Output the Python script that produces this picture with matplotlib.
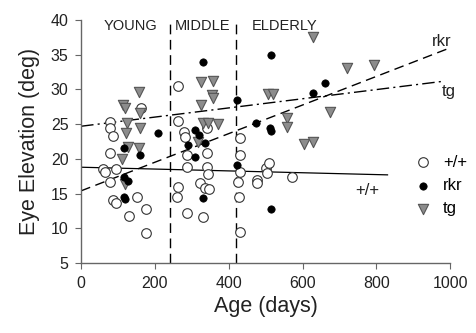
import matplotlib
matplotlib.use("Agg")
import matplotlib.pyplot as plt
import numpy as np

### === Data ===
# +/+ (open circles)
wt_age = [79, 79, 87, 163, 79, 60, 65, 95, 79, 87, 95, 152, 130, 176, 176,
          263, 263, 279, 282, 341, 287, 341, 287, 341, 344, 322, 336, 347, 263, 260, 287, 330,
          431, 431, 431, 425, 428, 431, 477, 477, 501, 509, 504, 572]
wt_elev = [25.3, 24.4, 23.3, 27.3, 20.8, 18.5, 18.1, 18.5, 16.7, 14.1, 13.7, 14.5, 11.8, 12.8, 9.3,
           30.5, 25.4, 23.9, 23.1, 24.4, 20.5, 20.8, 18.8, 18.8, 17.8, 16.5, 15.8, 15.6, 15.9, 14.5, 12.2, 11.6,
           23.0, 20.5, 18.1, 16.7, 14.5, 9.5, 17.0, 16.5, 18.7, 19.4, 18.0, 17.4]

# rkr (filled circles)
rkr_age = [209, 117, 160, 117, 127, 117, 120,
           330, 309, 320, 290, 336, 309, 330,
           423, 423,
           515, 474, 512, 515, 515, 629, 661]
rkr_elev = [23.7, 21.6, 20.5, 17.4, 16.8, 14.5, 14.2,
            34.0, 24.1, 23.4, 22.0, 22.3, 20.3, 14.4,
            28.5, 19.1,
            35.0, 25.2, 24.4, 24.0, 12.8, 29.5, 30.9]

# tg (grey triangles)
tg_age = [157, 114, 119, 160, 125, 160, 122, 127, 157, 111, 119,
          325, 358, 355, 358, 325, 330, 344, 371, 317,
          507, 520, 629, 721, 794, 675, 558, 558, 604, 629]
tg_elev = [29.6, 27.8, 27.3, 26.6, 25.2, 24.4, 23.7, 21.7, 21.6, 20.0, 16.4,
           31.1, 31.2, 29.2, 28.8, 27.8, 25.2, 25.2, 25.0, 22.4,
           29.3, 29.3, 37.6, 33.1, 33.5, 26.8, 25.9, 24.6, 22.1, 22.4]

# regression line end points
wt_fit_x, wt_fit_y = [0, 830], [18.8, 17.7]
rkr_fit_x, rkr_fit_y = [0, 1000], [15.4, 36.0]
tg_fit_x, tg_fit_y = [0, 985], [24.7, 31.2]

# age group borders and labels
group_edges = [240, 420]
group_names = ["YOUNG", "MIDDLE", "ELDERLY"]
group_pos = [133, 329, 550]

### === Plot ===
plt.rcParams["font.family"] = ["Liberation Sans", "DejaVu Sans"]

fig = plt.figure(figsize=(4.77, 3.33), dpi=100)
ax = fig.add_axes([0.170, 0.210, 0.774, 0.730])

ax.scatter(wt_age, wt_elev, s=48, facecolor="white", edgecolor="#333333",
           linewidth=0.8, label="+/+", zorder=3)
ax.scatter(rkr_age, rkr_elev, s=28, facecolor="black", edgecolor="black",
           linewidth=0.5, label="rkr", zorder=4)
ax.scatter(tg_age, tg_elev, marker="v", s=55, facecolor="#8c8c8c", edgecolor="#555555",
           linewidth=0.8, label="tg", zorder=3)

ax.plot(wt_fit_x, wt_fit_y, color="black", lw=0.9, zorder=2)
ax.plot(rkr_fit_x, rkr_fit_y, color="black", lw=1.0, dashes=(7, 4), zorder=2)
ax.plot(tg_fit_x, tg_fit_y, color="black", lw=1.0, dashes=(9, 3, 1.5, 3), zorder=2)

for xe in group_edges:
    ax.axvline(xe, color="black", lw=1.0, dashes=(7, 4), zorder=1)
for name, xp in zip(group_names, group_pos):
    ax.text(xp, 39.2, name, ha="center", va="center", fontsize=10.5, color="#222222")

ax.text(976, 36.9, "rkr", ha="center", va="center", fontsize=12, color="#222222")
ax.text(995, 29.7, "tg", ha="center", va="center", fontsize=12, color="#222222")
ax.text(775, 15.4, "+/+", ha="center", va="center", fontsize=12, color="#222222")

ax.set_xlim(0, 1000)
ax.set_ylim(5, 40)
ax.set_xticks(np.arange(0, 1001, 200))
ax.set_yticks(np.arange(5, 41, 5))
ax.spines["top"].set_visible(False)
ax.spines["right"].set_visible(False)
for sp in ["left", "bottom"]:
    ax.spines[sp].set_color("#666666")
    ax.spines[sp].set_linewidth(1.0)
ax.tick_params(direction="out", length=4, color="#666666", labelsize=11.5,
               labelcolor="#222222", pad=5)

ax.set_xlabel("Age (days)", fontsize=15.5, color="#222222", labelpad=4)
ax.set_ylabel("Eye Elevation (deg)", fontsize=15.5, color="#222222", labelpad=8)

ax.legend(loc="upper left", bbox_to_anchor=(0.885, 0.473), frameon=False,
          fontsize=12, handletextpad=0.7, labelspacing=0.5, borderaxespad=0,
          handlelength=1.0)

fig.savefig("out.png", dpi=100)
